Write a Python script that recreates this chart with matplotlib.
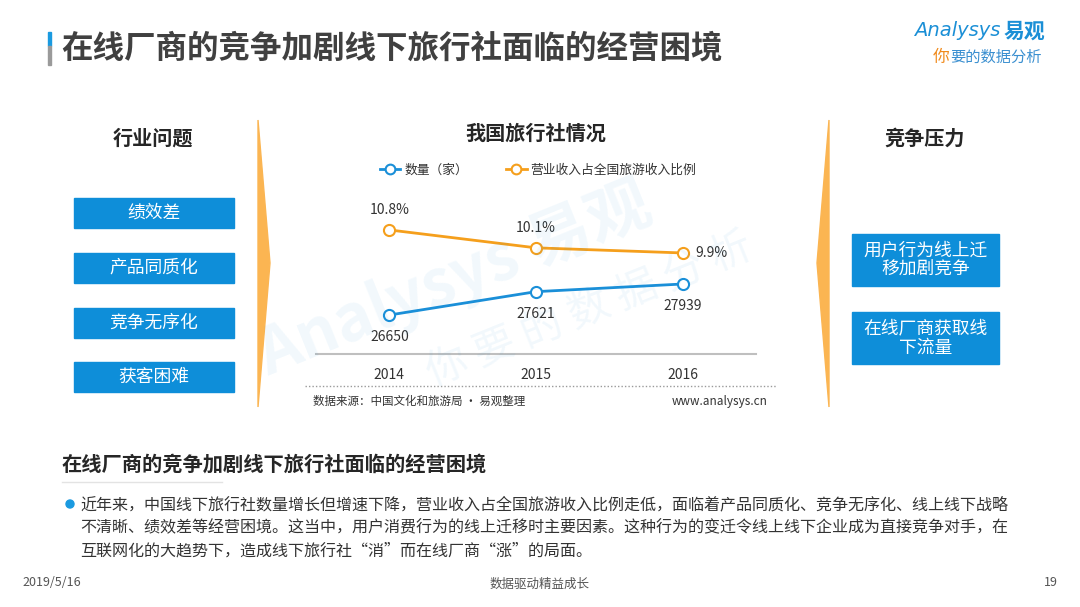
import matplotlib
matplotlib.use("Agg")
import matplotlib.pyplot as plt
from matplotlib.patches import Rectangle, Polygon, Ellipse
from matplotlib.lines import Line2D

plt.rcParams['font.family'] = ['Noto Sans CJK SC', 'DejaVu Sans']

# ---------------- data ----------------
years = ['2014', '2015', '2016']
agency_counts = [26650, 27621, 27939]
revenue_share = [10.8, 10.1, 9.9]
count_labels = ['26650', '27621', '27939']
share_labels = ['10.8%', '10.1%', '9.9%']
series_names = ['数量（家）', '营业收入占全国旅游收入比例']
industry_issues = ['绩效差', '产品同质化', '竞争无序化', '获客困难']
competition_pressures = ['用户行为线上迁\n移加剧竞争', '在线厂商获取线\n下流量']
page_title = '在线厂商的竞争加剧线下旅行社面临的经营困境'
body_lines = [
    '近年来，中国线下旅行社数量增长但增速下降，营业收入占全国旅游收入比例走低，面临着产品同质化、竞争无序化、线上线下战略',
    '不清晰、绩效差等经营困境。这当中，用户消费行为的线上迁移时主要因素。这种行为的变迁令线上线下企业成为直接竞争对手，在',
    '互联网化的大趋势下，造成线下旅行社“消”而在线厂商“涨”的局面。',
]

W, H = 1080, 607
fig = plt.figure(figsize=(W / 100, H / 100), dpi=100)
fig.patch.set_facecolor('white')

def fx(x):
    return x / W

def fy(y):
    return 1 - y / H

BLUE = '#1a8fd8'
BOX = '#0e8ed9'
ORANGE = '#f59f1c'
DARK = '#404040'
ARROW = '#fbb552'

# ---------------- header ----------------
fig.patches.append(Rectangle((fx(48), fy(46)), fx(3), 14 / H, transform=fig.transFigure,
                             color='#1a9ae0', zorder=3))
fig.patches.append(Rectangle((fx(48), fy(65)), fx(3), 19 / H, transform=fig.transFigure,
                             color='#9a9a9a', zorder=3))
fig.text(fx(61), fy(48), page_title, fontsize=22.7, fontweight='bold', color=DARK,
         ha='left', va='center')

# logo
fig.text(fx(1000), fy(31), 'Analysys', fontsize=14, color='#1b8fd6', style='italic',
         ha='right', va='center', family=['DejaVu Sans'])
fig.text(fx(1004), fy(31), '易观', fontsize=15, fontweight='bold', color='#1b8fd6',
         ha='left', va='center')
fig.text(fx(933), fy(57), '你', fontsize=12, color='#f08a1c', ha='left', va='center')
fig.text(fx(950), fy(57), '要的数据分析', fontsize=11, color='#3a8fd0', style='italic',
         ha='left', va='center')

# ---------------- watermark ----------------
fig.text(fx(455), fy(280), 'Analysys 易观', fontsize=46, color='#1a8fd8', alpha=0.06,
         rotation=22, ha='center', va='center', fontweight='bold')
fig.text(fx(590), fy(310), '你 要 的 数 据 分 析', fontsize=30, color='#1a8fd8', alpha=0.06,
         rotation=22, ha='center', va='center')

# ---------------- left column ----------------
fig.text(fx(153), fy(138), '行业问题', fontsize=14.5, fontweight='bold', color='#262626',
         ha='center', va='center')
box_tops = [198, 253, 308, 362]
for top, label in zip(box_tops, industry_issues):
    fig.patches.append(Rectangle((fx(74), fy(top + 30)), fx(160), 30 / H,
                                 transform=fig.transFigure, color=BOX))
    fig.text(fx(154), fy(top + 15), label, fontsize=12.8, color='white',
             ha='center', va='center')

# arrows
fig.patches.append(Polygon([(fx(258), fy(120)), (fx(270), fy(263)), (fx(258), fy(407))],
                           closed=True, transform=fig.transFigure, color=ARROW))
fig.patches.append(Polygon([(fx(829), fy(120)), (fx(817), fy(263)), (fx(829), fy(407))],
                           closed=True, transform=fig.transFigure, color=ARROW))

# ---------------- right column ----------------
fig.text(fx(925), fy(138), '竞争压力', fontsize=14.5, fontweight='bold', color='#262626',
         ha='center', va='center')
rbox = [(234, 286), (312, 364)]
for (t, b), label in zip(rbox, competition_pressures):
    fig.patches.append(Rectangle((fx(852), fy(b)), fx(147), (b - t) / H,
                                 transform=fig.transFigure, color=BOX))
    fig.text(fx(925.5), fy((t + b) / 2), label, fontsize=12.8, color='white',
             ha='center', va='center', linespacing=1.1)

# ---------------- chart ----------------
fig.text(fx(536), fy(133), '我国旅行社情况', fontsize=14.5, fontweight='bold', color='#262626',
         ha='center', va='center')

ax = fig.add_axes([fx(316), fy(354), fx(440), 154 / H])
ax2 = ax.twinx()
x = list(range(len(years)))

ax.plot(x, agency_counts, color=BLUE, lw=2, marker='o', ms=8, mfc='white', mec=BLUE,
        mew=1.5, zorder=3)
ax2.plot(x, revenue_share, color=ORANGE, lw=2, marker='o', ms=8, mfc='white', mec=ORANGE,
         mew=1.5, zorder=3)
ax.set_xlim(-0.5, 2.5)
ax.set_ylim(25030, 31430)
ax2.set_ylim(5.95, 11.97)

for a in (ax, ax2):
    a.set_facecolor('none')
    for s in ('top', 'left', 'right'):
        a.spines[s].set_visible(False)
    a.set_yticks([])
ax2.spines['bottom'].set_visible(False)
ax.spines['bottom'].set_color('#bfbfbf')
ax.spines['bottom'].set_linewidth(1.5)
ax.set_xticks(x)
ax.set_xticklabels(years, fontsize=10, color='#333333')
ax.tick_params(axis='x', length=0, pad=10)

# data labels
count_offsets = [(0, -22), (0, -22), (0, -22)]
for xi, v, lab, off in zip(x, agency_counts, count_labels, count_offsets):
    ax.annotate(lab, (xi, v), xytext=off, textcoords='offset pixels', ha='center',
                va='center', fontsize=10, color='#333333')
share_offsets = [(0, 20), (0, 20), (29, 0)]
for xi, v, lab, off in zip(x, revenue_share, share_labels, share_offsets):
    ax2.annotate(lab, (xi, v), xytext=off, textcoords='offset pixels', ha='center',
                 va='center', fontsize=10, color='#333333')

handles = [
    Line2D([], [], color=BLUE, lw=2, marker='o', ms=7, mfc='white', mec=BLUE, mew=1.5),
    Line2D([], [], color=ORANGE, lw=2, marker='o', ms=7, mfc='white', mec=ORANGE, mew=1.5),
]
fig.legend(handles, series_names, loc='center', bbox_to_anchor=(fx(538), fy(170)), ncol=2,
           frameon=False, fontsize=9.2, handlelength=1.6, handletextpad=0.3,
           columnspacing=3.0, labelcolor='#333333')

# dotted separator and source
fig.lines.append(Line2D([fx(305), fx(777)], [fy(386), fy(386)], transform=fig.transFigure,
                        color='#9a9a9a', lw=1, ls=(0, (1, 1.5))))
fig.text(fx(313), fy(401), '数据来源：中国文化和旅游局 · 易观整理', fontsize=8.3, color='#333333',
         ha='left', va='center')
fig.text(fx(768), fy(401), 'www.analysys.cn', fontsize=8.5, color='#333333',
         ha='right', va='center')

# ---------------- bottom text ----------------
fig.text(fx(62), fy(464), page_title, fontsize=14.6, fontweight='bold', color='#262626',
         ha='left', va='center')
fig.lines.append(Line2D([fx(62), fx(222)], [fy(482), fy(482)], transform=fig.transFigure,
                        color='#e3e3e3', lw=1))
fig.patches.append(Ellipse((fx(70), fy(504)), 8 / W, 8 / H, transform=fig.transFigure,
                           color='#1a9ae0'))
for i, line in enumerate(body_lines):
    fig.text(fx(80), fy(505 + 23 * i), line, fontsize=11.55, color='#333333',
             ha='left', va='center')

# footer
fig.text(fx(22), fy(583), '2019/5/16', fontsize=9, color='#555555', ha='left', va='center')
fig.text(fx(540), fy(584), '数据驱动精益成长', fontsize=9, color='#555555', ha='center', va='center')
fig.text(fx(1058), fy(583), '19', fontsize=9, color='#555555', ha='right', va='center')

fig.savefig('out.png', dpi=100)
